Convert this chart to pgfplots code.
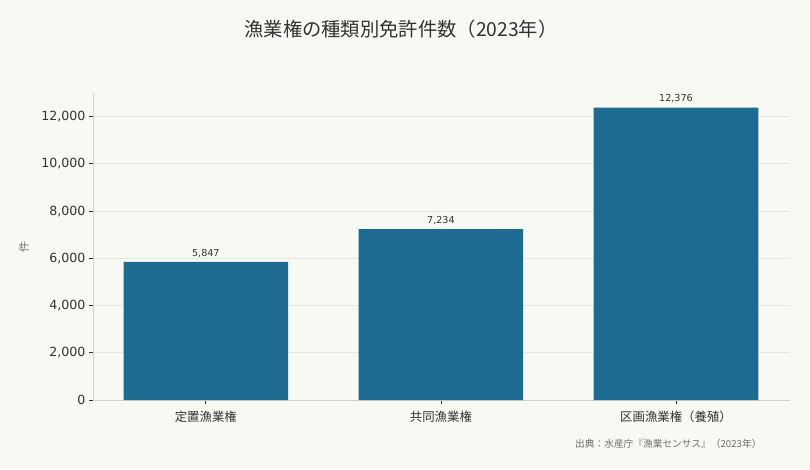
\documentclass[border=0pt]{standalone}
\usepackage{pgfplots}
\pgfplotsset{compat=1.18}
\usepackage{fontspec}
\setmainfont{DejaVu Sans}
\newfontfamily\cjk{Noto Sans CJK JP}
\definecolor{bg}{RGB}{249,249,244}
\definecolor{barblue}{RGB}{30,107,145}
\definecolor{txt}{RGB}{51,51,51}
\definecolor{gridc}{RGB}{230,230,225}
\definecolor{spine}{RGB}{210,210,204}
\definecolor{src}{RGB}{110,110,110}
\begin{document}
\begin{tikzpicture}[x=1pt,y=1pt]
\fill[bg] (0,0) rectangle (810,469);
\node[font=\cjk\fontsize{19.3}{21}\selectfont, text=txt] at (401,440) {漁業権の種類別免許件数（2023年）};
\node[font=\cjk\fontsize{11}{12}\selectfont, text=src, rotate=90] at (24,222) {件};
\node[font=\cjk\fontsize{9.7}{11}\selectfont, text=src, anchor=east] at (765,25) {出典：水産庁『漁業センサス』（2023年）};
\begin{axis}[
    at={(93pt,69pt)}, anchor=south west,
    scale only axis, width=697pt, height=307pt,
    ybar, bar width=0.7,
    xmin=-0.48, xmax=2.485,
    ymin=0, ymax=13000,
    xtick={0,1,2},
    xticklabels={定置漁業権,共同漁業権,区画漁業権（養殖）},
    xticklabel style={font=\cjk\fontsize{12.4}{14}\selectfont, text=txt, yshift=-3pt},
    ytick={0,2000,...,12000},
    scaled y ticks=false,
    yticklabel style={font=\fontsize{12.6}{14}\selectfont, text=txt,
        /pgf/number format/.cd, fixed, 1000 sep={,}, assume math mode=true},
    axis x line*=bottom, axis y line*=left,
    axis line style={spine, line width=0.8pt},
    tick align=outside, major tick length=4pt,
    tick style={txt, line width=0.7pt},
    ymajorgrids=true,
    grid style={gridc, line width=0.7pt},
    nodes near coords={\pgfmathprintnumber[fixed,precision=0,1000 sep={,},assume math mode=true]{\pgfplotspointmeta}},
    every node near coord/.append style={font=\fontsize{9.6}{11}\selectfont, text=txt, inner sep=2pt, yshift=2.5pt},
    axis background/.style={fill=bg},
]
\addplot[fill=barblue, draw=none] coordinates {(0,5847) (1,7234) (2,12376)};
\end{axis}
\end{tikzpicture}
\end{document}
